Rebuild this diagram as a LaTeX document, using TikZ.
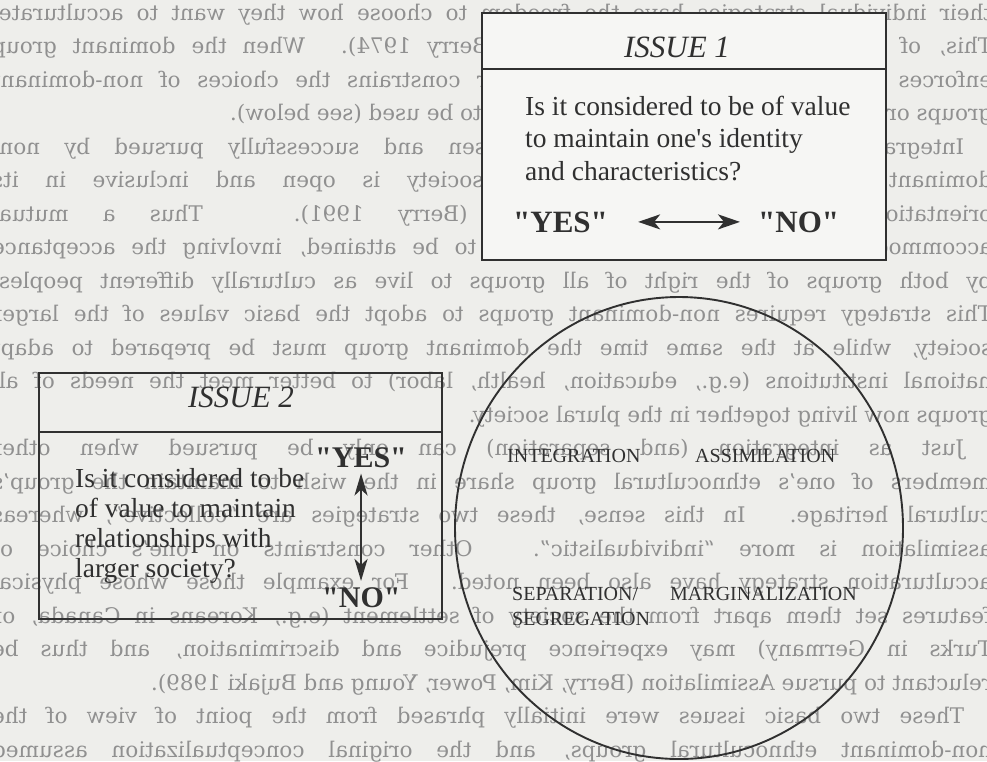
\documentclass[tikz,border=0pt]{standalone}
\usepackage{fontspec}
\usepackage{graphicx}
\setmainfont{Liberation Serif}[Ligatures=TeXOff]
\newfontfamily\bgfont{DejaVu Serif}
\usetikzlibrary{arrows.meta,shapes.geometric}
\definecolor{paper}{HTML}{EEEEEB}
\definecolor{boxfill}{HTML}{F6F6F4}
\definecolor{ink}{HTML}{303030}
\definecolor{ghost}{HTML}{909090}
\newcommand\gj[1]{\hbox to 1000pt{#1}}
\newcommand\gl[1]{\hbox to 1000pt{#1\hfil}}
\tikzset{
  boxline/.style={draw=ink, line width=2.6pt},
  issuetitle/.style={font=\fontsize{31}{31}\selectfont\itshape, text=ink, inner sep=0pt, anchor=base},
  questionA/.style={font=\fontsize{27.5}{32.5}\selectfont, text=ink, inner sep=0pt, anchor=base west},
  questionB/.style={font=\fontsize{27.5}{30}\selectfont, text=ink, inner sep=0pt, anchor=base west},
  answer/.style={font=\fontsize{31}{31}\selectfont\bfseries, text=ink, inner sep=0pt, anchor=base west},
  strat/.style={font=\fontsize{20}{25}\selectfont, text=ink, inner sep=0pt, anchor=base west},
  dblarrow/.style={draw=ink, line width=2.4pt,
    {Stealth[length=22pt,width=15pt,inset=6pt]}-{Stealth[length=22pt,width=15pt,inset=6pt]}},
  ghosttext/.style={font=\bgfont\fontsize{21.5}{33.5}\selectfont, text=ghost, inner sep=0pt, anchor=base west},
}
\begin{document}
\begin{tikzpicture}[x=1pt,y=-1pt]
\useasboundingbox (0,0) rectangle (987,761);
\clip (0,0) rectangle (987,761);
\fill[paper] (0,0) rectangle (987,761);

% show-through text of the page (mirrored)
\node[ghosttext] (ghost) at (-8,20) {\reflectbox{\vtop{\baselineskip=33.5pt\lineskiplimit=-1000pt
\gj{their individual strategies have the freedom to choose how they want to acculturate.}
\gj{This, of course, is not always the case (Berry 1974). When the dominant group}
\gj{enforces certain forms of acculturation, or constrains the choices of non-dominant}
\gl{groups or individuals, then a third term needs to be used (see below).}
\gj{\hskip28pt Integration can only be “freely” chosen and successfully pursued by non-}
\gj{dominant groups when the dominant society is open and inclusive in its}
\gj{orientation towards cultural diversity (Berry 1991). Thus a mutual}
\gj{accommodation is required for integration to be attained, involving the acceptance}
\gj{by both groups of the right of all groups to live as culturally different peoples.}
\gj{This strategy requires non-dominant groups to adopt the basic values of the larger}
\gj{society, while at the same time the dominant group must be prepared to adapt}
\gj{national institutions (e.g., education, health, labor) to better meet the needs of all}
\gl{groups now living together in the plural society.}
\gj{\hskip28pt Just as integration (and separation) can only be pursued when other}
\gj{members of one’s ethnocultural group share in the wish to maintain the group’s}
\gj{cultural heritage. In this sense, these two strategies are “collective”, whereas}
\gj{assimilation is more “individualistic”. Other constraints on one’s choice of}
\gj{acculturation strategy have also been noted. For example those whose physical}
\gj{features set them apart from the society of settlement (e.g., Koreans in Canada, or}
\gj{Turks in Germany) may experience prejudice and discrimination, and thus be}
\gl{reluctant to pursue Assimilation (Berry, Kim, Power, Young and Bujaki 1989).}
\gj{\hskip28pt These two basic issues were initially phrased from the point of view of the}
\gj{non-dominant ethnocultural groups, and the original conceptualization assumed}
}}};

% ISSUE 1 box
\draw[boxline, fill=boxfill] (482,13) rectangle (886,260);
\draw[boxline] (482,69) -- (886,69);
\node[issuetitle] (t1) at (677,57) {ISSUE 1};
\node[questionA] (q1) at (525,115) {\vtop{\hbox{Is it considered to be of value}\hbox{to maintain one's identity}\hbox{and characteristics?}}};
\node[answer] (yes1) at (513,232) {"YES"};
\node[answer] (no1) at (758,232) {"NO"};
\draw[dblarrow, shorten <=30pt, shorten >=18pt] (yes1) -- (no1);

% ISSUE 2 box
\draw[boxline] (39,373) rectangle (442,619);
\draw[boxline] (39,432) -- (442,432);
\node[issuetitle] (t2) at (241,407) {ISSUE 2};
\node[questionB] (q2) at (75,487) {\vtop{\hbox{Is it considered to be}\hbox{of value to maintain}\hbox{relationships with}\hbox{larger society?}}};
\node[answer, font=\fontsize{30}{30}\selectfont\bfseries] (yes2) at (315,467) {"YES"};
\node[answer, font=\fontsize{30}{30}\selectfont\bfseries] (no2) at (322,607) {"NO"};
\draw[dblarrow, {Stealth[length=22pt,width=13pt,inset=6pt]}-{Stealth[length=22pt,width=13pt,inset=6pt]},
  shorten <=6pt, shorten >=6pt] (yes2.south) -- (yes2.south |- no2.north);

% strategies circle
\node[draw=ink, line width=1.9pt, ellipse, minimum width=448pt, minimum height=462pt, inner sep=0pt] (circ) at (679,528) {};
\node[strat] (integ) at (507,462) {INTEGRATION};
\node[strat] (assim) at (695,462) {ASSIMILATION};
\node[strat] (separ) at (512,600) {\vtop{\hbox{SEPARATION/}\hbox{SEGREGATION}}};
\node[strat] (margi) at (670,600) {MARGINALIZATION};
\end{tikzpicture}
\end{document}
